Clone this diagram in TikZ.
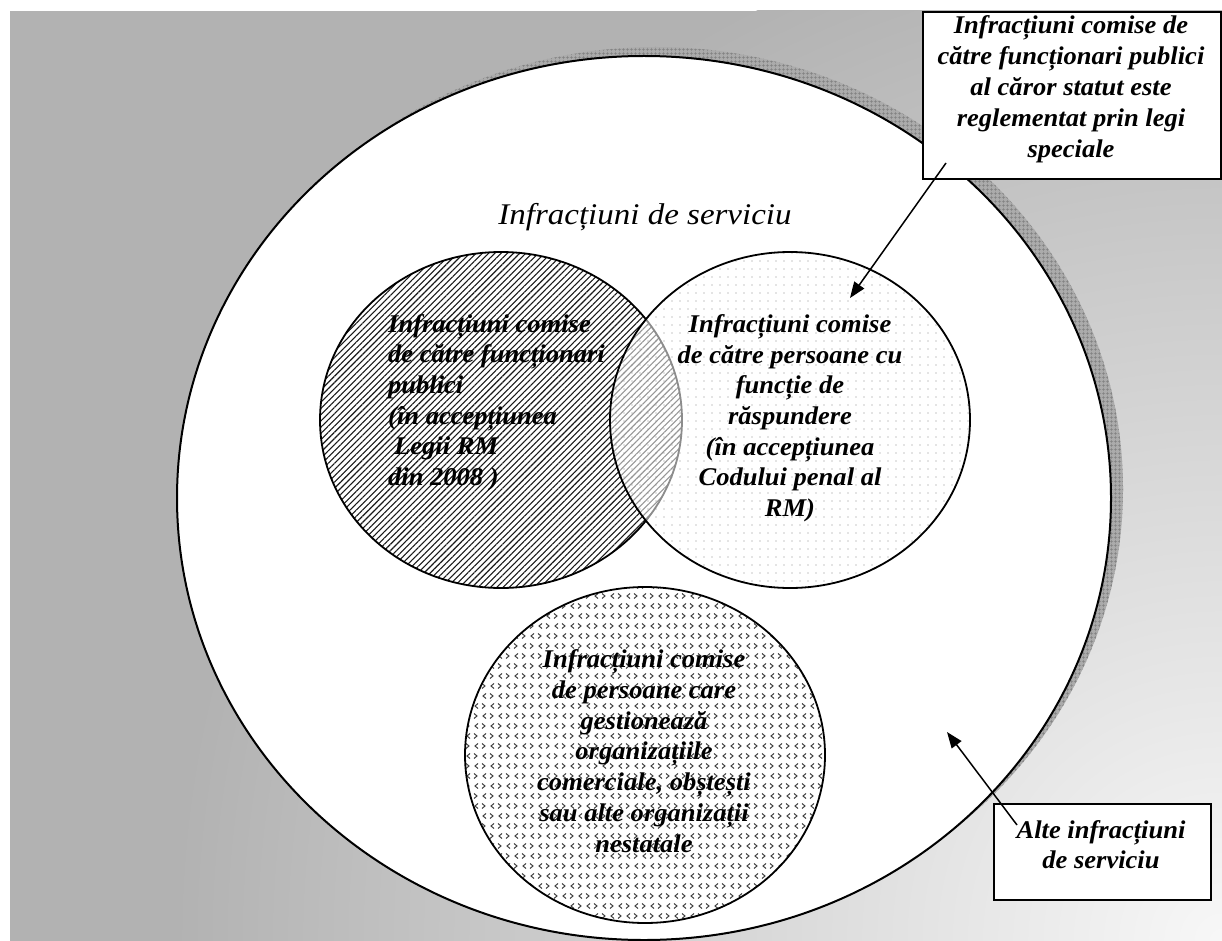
\documentclass[tikz,border=0pt]{standalone}
\usepackage{fontspec}
\setmainfont{Liberation Serif}
\newfontfamily\widefont[FakeStretch=1.04]{Liberation Serif}
\newfontfamily\titlefont[FakeStretch=1.1]{Liberation Serif}
\usetikzlibrary{arrows.meta,patterns,patterns.meta}

\pgfdeclarepattern{
  name=chevrons,
  type=uncolored,
  bottom left={\pgfpoint{-1pt}{-1pt}},
  top right={\pgfpoint{17pt}{21pt}},
  tile size={\pgfpoint{16pt}{20pt}},
  code={
    \pgfsetlinewidth{1pt}
    \pgfpathmoveto{\pgfpoint{6pt}{7.5pt}}\pgfpathlineto{\pgfpoint{3pt}{5pt}}\pgfpathlineto{\pgfpoint{6pt}{2.5pt}}
    \pgfpathmoveto{\pgfpoint{10pt}{7.5pt}}\pgfpathlineto{\pgfpoint{13pt}{5pt}}\pgfpathlineto{\pgfpoint{10pt}{2.5pt}}
    \pgfpathmoveto{\pgfpoint{2pt}{17.5pt}}\pgfpathlineto{\pgfpoint{5pt}{15pt}}\pgfpathlineto{\pgfpoint{2pt}{12.5pt}}
    \pgfpathmoveto{\pgfpoint{14pt}{17.5pt}}\pgfpathlineto{\pgfpoint{11pt}{15pt}}\pgfpathlineto{\pgfpoint{14pt}{12.5pt}}
    \pgfusepath{stroke}
  }
}

\begin{document}
\begin{tikzpicture}[x=1pt,y=-1pt,
  bitext/.style={font=\widefont\fontsize{25.5}{30.7}\selectfont\bfseries\itshape, inner sep=0pt},
  boxnode/.style={draw=black, line width=1.6pt, fill=white, inner sep=0pt, rectangle},
  arr/.style={line width=1.5pt, -{Triangle[length=16pt,width=12pt]}},
  outline/.style={line width=1.8pt}
]
\useasboundingbox (0,0) rectangle (1222,941);
\fill[white] (0,0) rectangle (1222,941);
% background gradient
\begin{scope}
  \clip (10,11) rectangle (1222,941);
  \fill[black!30] (10,11) rectangle (1222,941);
  \shade[inner color=black!3, outer color=black!30] (1222,941) circle (1040);
\end{scope}

% shadow of outer ellipse
\fill[black!33] (656,489) ellipse [x radius=467, y radius=442];
\fill[pattern={Hatch[distance=4pt,line width=0.5pt]}, pattern color=black!50] (656,489) ellipse [x radius=467, y radius=442];
% outer ellipse
\draw[line width=2pt, fill=white] (644,498) ellipse [x radius=467, y radius=442];

% left ellipse (hatched)
\fill[white] (501,420) ellipse [x radius=181, y radius=168];
\fill[pattern={Lines[angle=45,distance=4.4pt,line width=1.1pt]}, pattern color=black!90] (501,420) ellipse [x radius=181, y radius=168];
\draw[outline] (501,420) ellipse [x radius=181, y radius=168];

% right ellipse (dotted, semi transparent)
\fill[white, fill opacity=0.55] (790,420) ellipse [x radius=180, y radius=168];
\fill[pattern={Dots[radius=0.7pt,distance=8pt]}, pattern color=black!45] (790,420) ellipse [x radius=180, y radius=168];
\draw[outline] (790,420) ellipse [x radius=180, y radius=168];

% bottom ellipse (chevrons)
\fill[white] (645,755) ellipse [x radius=180, y radius=168];
\fill[pattern=chevrons, pattern color=black!75] (645,755) ellipse [x radius=180, y radius=168];
\draw[outline] (645,755) ellipse [x radius=180, y radius=168];

% title
\node[font=\titlefont\fontsize{30}{35}\selectfont\itshape, inner sep=0pt, anchor=base] (title) at (645,225) {Infracțiuni de serviciu};

% texts in ellipses (anchor base = last line)
\node[bitext, align=left, anchor=base west] (tL) at (388,485.5)
  {Infracțiuni comise\\de către funcționari\\publici\\(în accepțiunea\\\hspace*{6pt}Legii RM\\din 2008 )};
\node[bitext, align=center, anchor=base] (tR) at (790,516.5)
  {Infracțiuni comise\\de către persoane cu\\funcție de\\răspundere\\(în accepțiunea\\Codului penal al\\RM)};
\node[bitext, align=center, anchor=base] (tB) at (644,852)
  {Infracțiuni comise\\de persoane care\\gestionează\\organizațiile\\comerciale, obștești\\sau alte organizații\\nestatale};

% boxes
\node[boxnode, minimum width=298pt, minimum height=167pt, anchor=north west] (boxA) at (922,11) {};
\node[bitext, align=center, anchor=base, font=\widefont\fontsize{25.5}{31}\selectfont\bfseries\itshape] (tA) at (1071,158)
  {Infracțiuni comise de\\către funcționari publici\\al căror statut este\\reglementat prin legi\\speciale};
\node[boxnode, minimum width=217pt, minimum height=96pt, anchor=north west] (boxB) at (993,803) {};
\node[bitext, align=center, anchor=base, font=\widefont\fontsize{25.5}{30}\selectfont\bfseries\itshape] (tBx) at (1101,868)
  {Alte infracțiuni\\de serviciu};

% arrows
\coordinate (a1s) at (946,163);
\coordinate (a1e) at (850,298);
\draw[arr] (a1s) -- (a1e);
\coordinate (a2s) at (1017,825);
\coordinate (a2e) at (947,732);
\draw[arr] (a2s) -- (a2e);
\end{tikzpicture}
\end{document}
